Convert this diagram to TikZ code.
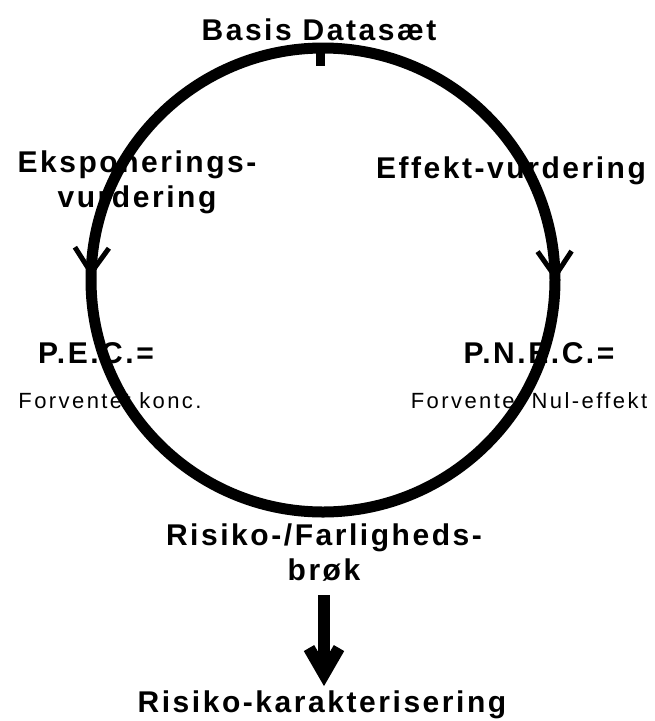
\documentclass[tikz,border=0pt]{standalone}
\usepackage{fontspec}
\setmainfont{Liberation Sans}
\newfontfamily\bigfont{Liberation Sans}[LetterSpace=8.5]
\newfontfamily\smallfont{Liberation Sans}[LetterSpace=11]
\usetikzlibrary{arrows.meta,decorations.markings}

\begin{document}
\begin{tikzpicture}[x=1pt, y=-1pt,
  big/.style={font=\bigfont\bfseries\fontsize{30}{35}\selectfont, inner sep=0pt, anchor=base, align=center},
  small/.style={font=\smallfont\fontsize{22}{26}\selectfont, inner sep=0pt, anchor=base},
  ring/.style={line width=11pt, postaction={decorate},
    decoration={markings, mark=at position #1 with {\draw[line width=5pt] (-25,17) -- (0,0) -- (-25,-17);}}}]
  \useasboundingbox (0,0) rectangle (655,721);
  % Labels
  \node[big] (basis) at (319,40) {Basis Datasæt};
  \node[big] (ekspo) at (137,207) {Eksponerings-\\vurdering};
  \node[big] (effekt) at (511,178) {Effekt-vurdering};
  \node[big] (pec) at (96,363) {P.E.C.=};
  \node[small] (pecsub) at (110,408) {Forventet konc.};
  \node[big] (pnec) at (539,363) {P.N.E.C.=};
  \node[small] (pnecsub) at (529,408) {Forventet Nul-effekt};
  \node[big] (brok) at (324,580) {Risiko-/Farligheds-\\brøk};
  \node[big] (karakt) at (322,712) {Risiko-karakterisering};
  % Circle (two halves, top to bottom)
  \coordinate (ctop) at (323,48);
  \coordinate (cleft) at (91,280);
  \coordinate (cright) at (555,280);
  \coordinate (cbot) at (323,512);
  \draw[ring=0.49] (ctop) .. controls (195,48) and (91,152) .. (cleft)
    .. controls (91,408) and (195,512) .. (cbot);
  \draw[ring=0.495] (ctop) .. controls (451,48) and (555,152) .. (cright)
    .. controls (555,408) and (451,512) .. (cbot);
  \coordinate (tick) at (320,66);
  \draw[line width=9pt] (tick |- ctop) -- (tick);
  % Result arrow
  \draw[line width=12pt, -{Straight Barb[length=26pt,width=30pt]}, shorten <=14pt, shorten >=4pt]
    (brok.south) -- (brok.south |- karakt.north);
\end{tikzpicture}
\end{document}
